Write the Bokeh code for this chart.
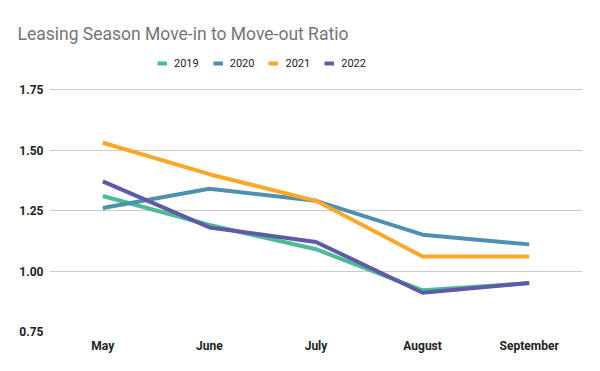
from bokeh.plotting import figure
from bokeh.models import FactorRange, Range1d, FixedTicker, NumeralTickFormatter, Legend, LegendItem, Title
from bokeh.embed import file_html
from bokeh.resources import INLINE

months = ["May", "June", "July", "August", "September"]
y2019 = [1.31, 1.19, 1.09, 0.92, 0.95]
y2020 = [1.26, 1.34, 1.29, 1.15, 1.11]
y2021 = [1.53, 1.40, 1.29, 1.06, 1.06]
y2022 = [1.37, 1.18, 1.12, 0.91, 0.95]
series_names = ["2019", "2020", "2021", "2022"]
y_ticks = [0.75, 1.00, 1.25, 1.50, 1.75]
title_text = "Leasing Season Move-in to Move-out Ratio"

colors = ["#4cbc94", "#4f8fb0", "#fba72a", "#5e5aa8"]

# frame spans 50..331 px; extra headroom above 1.75 holds the legend
y_end = 0.75 + (331 - 50) / 242.0

p = figure(width=600, height=371, x_range=FactorRange(*months), y_range=Range1d(0.75, y_end),
           output_backend="svg", toolbar_location=None, title=None)
p.min_border_left = 49
p.min_border_right = 18
p.min_border_top = 50
p.min_border_bottom = 40
p.outline_line_color = None

items = []
for name, ys, c in zip(series_names, [y2019, y2020, y2021, y2022], colors):
    r = p.line(months, ys, line_color=c, line_width=4, line_join="round", line_cap="butt")
    items.append(LegendItem(label=name, renderers=[r]))

p.xgrid.grid_line_color = None
p.ygrid.grid_line_color = "#cccccc"
p.ygrid.grid_line_width = 1
p.yaxis.ticker = FixedTicker(ticks=y_ticks)
p.yaxis.formatter = NumeralTickFormatter(format="0.00")
for ax in (p.xaxis[0], p.yaxis[0]):
    ax.axis_line_color = None
    ax.major_tick_line_color = None
    ax.minor_tick_line_color = None
    ax.major_tick_out = 0
    ax.major_tick_in = 0
    ax.minor_tick_out = 0
    ax.major_label_text_font = "Roboto"
    ax.major_label_text_font_size = "12px"
    ax.major_label_text_font_style = "bold"
    ax.major_label_text_color = "#222222"
p.xaxis.major_label_standoff = 7
p.yaxis.major_label_standoff = 6

legend = Legend(items=items, orientation="horizontal", location=(108, 261),
                label_text_font="Roboto", label_text_font_size="11px", label_text_color="#222222",
                glyph_width=10, glyph_height=14, label_height=14, label_width=10,
                label_standoff=7, spacing=14,
                border_line_color=None, background_fill_alpha=0, padding=0, margin=0)
p.add_layout(legend)

p.title = Title(text=title_text, text_font="Roboto", text_font_size="17.5px",
                text_font_style="normal", text_color="#757575", align="left",
                offset=-32, standoff=14)

open("out.html", "w").write(file_html(p, INLINE))
